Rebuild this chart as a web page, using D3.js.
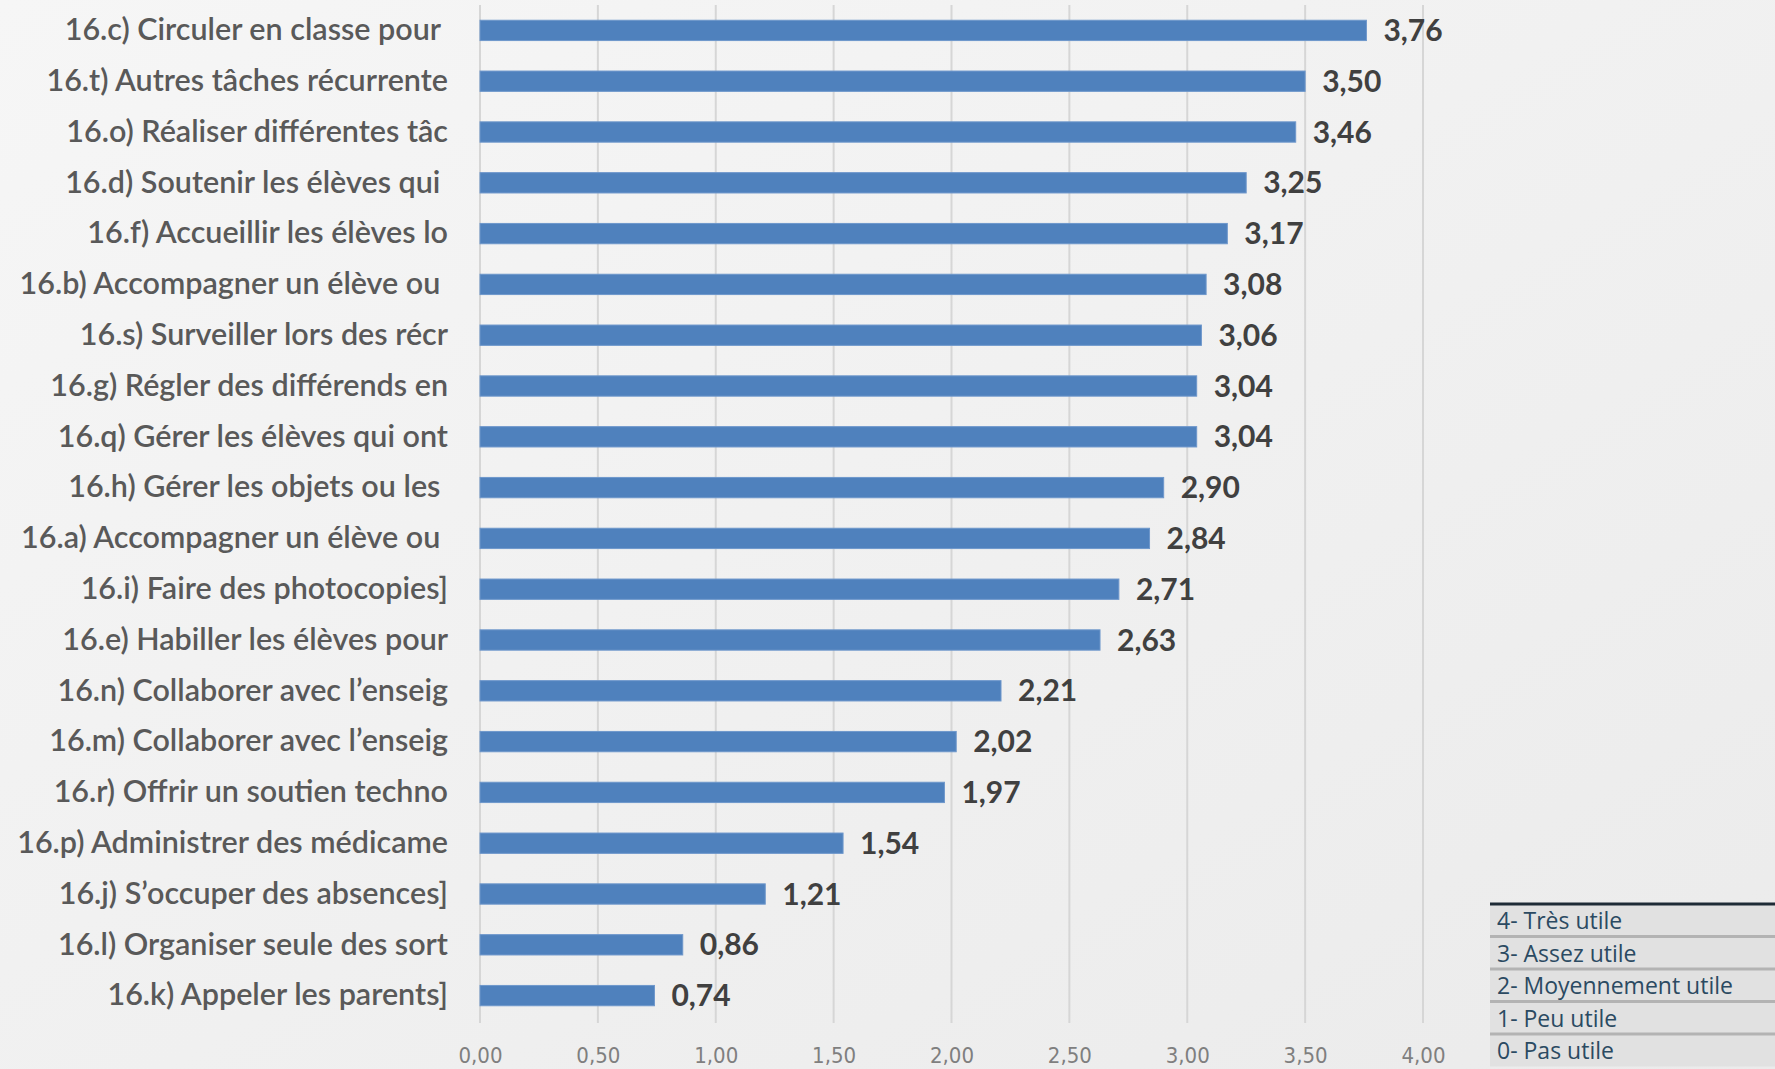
<!DOCTYPE html>
<html><head><meta charset="utf-8">
<script src="https://cdn.jsdelivr.net/npm/d3@7"></script>
<style>
html,body{margin:0;padding:0;}
body{width:1775px;height:1069px;overflow:hidden;background:#eeeeee;}
</style></head>
<body>
<svg id="chart" width="1775" height="1069"></svg>
<script>
const categories = [
  "16.c) Circuler en classe pour ",
  "16.t) Autres tâches récurrente",
  "16.o) Réaliser différentes tâc",
  "16.d) Soutenir les élèves qui ",
  "16.f) Accueillir les élèves lo",
  "16.b) Accompagner un élève ou ",
  "16.s) Surveiller lors des récr",
  "16.g) Régler des différends en",
  "16.q) Gérer les élèves qui ont",
  "16.h) Gérer les objets ou les ",
  "16.a) Accompagner un élève ou ",
  "16.i) Faire des photocopies]",
  "16.e) Habiller les élèves pour",
  "16.n) Collaborer avec l’enseig",
  "16.m) Collaborer avec l’enseig",
  "16.r) Offrir un soutien techno",
  "16.p) Administrer des médicame",
  "16.j) S’occuper des absences]",
  "16.l) Organiser seule des sort",
  "16.k) Appeler les parents]"
];
const values = [3.76,3.50,3.46,3.25,3.17,3.08,3.06,3.04,3.04,2.90,2.84,2.71,2.63,2.21,2.02,1.97,1.54,1.21,0.86,0.74];
const xTicks = [0,0.5,1,1.5,2,2.5,3,3.5,4];
const legendItems = ["4- Très utile","3- Assez utile","2- Moyennement utile","1- Peu utile","0- Pas utile"];

const svg = d3.select("#chart");
const defs = svg.append("defs");
const grad = defs.append("linearGradient").attr("id","bg").attr("x1","0").attr("y1","0").attr("x2","1").attr("y2","1");
grad.append("stop").attr("offset","0%").attr("stop-color","#f6f6f6");
grad.append("stop").attr("offset","100%").attr("stop-color","#ebebeb");
svg.append("rect").attr("width",1775).attr("height",1069).attr("fill","url(#bg)");

const fmt = v => d3.format(".2f")(v).replace(".", ",");
const x = d3.scaleLinear().domain([0,4]).range([480,1423]);
const y = d3.scaleBand().domain(categories).range([5,1021]).paddingInner(0.6).paddingOuter(0.3);

// gridlines
svg.append("g").selectAll("line").data(xTicks).join("line")
  .attr("x1",d=>x(d)).attr("x2",d=>x(d)).attr("y1",5).attr("y2",1023)
  .attr("stroke","#d6d6d6").attr("stroke-width",2);

// x axis labels
const xAxis = d3.axisBottom(x).tickValues(xTicks).tickFormat(fmt).tickSize(0).tickPadding(0);
const gx = svg.append("g").attr("transform","translate(0,1047)").call(xAxis);
gx.select(".domain").remove();
gx.selectAll("text").attr("fill","#7f7f7f").style("font-family","'Liberation Sans Narrow','DejaVu Sans Condensed',sans-serif")
  .style("font-size","22px").style("font-weight","300");

// y axis labels
const yAxis = d3.axisLeft(y).tickSize(0).tickPadding(0);
const gy = svg.append("g").attr("transform","translate(448,0)").call(yAxis);
gy.select(".domain").remove();
gy.selectAll("text").attr("fill","#595959").style("white-space","pre")
  .style("font-family","Lato, 'Open Sans', sans-serif").style("font-size","30.5px").style("font-weight","600");

// bars
svg.append("g").selectAll("rect").data(values).join("rect")
  .attr("x",x(0)).attr("y",(d,i)=>y(categories[i]))
  .attr("width",d=>x(d)-x(0)).attr("height",y.bandwidth())
  .attr("fill","#4f81bd").attr("stroke","#6e97cb").attr("stroke-width",1);

// value labels
svg.append("g").selectAll("text").data(values).join("text")
  .attr("x",d=>x(d)+17).attr("y",(d,i)=>y(categories[i])+y.bandwidth()/2)
  .attr("dy","0.35em").attr("fill","#404040")
  .style("font-family","Lato, 'Open Sans', sans-serif").style("font-size","30px").style("font-weight","700")
  .text(fmt);

// legend table
const lg = svg.append("g");
const rowH = 32.5, lx = 1490, ly = 904;
lg.selectAll("rect.row").data(legendItems).join("rect").attr("class","row")
  .attr("x",lx).attr("y",(d,i)=>ly+i*rowH).attr("width",1775-lx).attr("height",rowH)
  .attr("fill","#e1e1e1");
lg.selectAll("line.sep").data(legendItems.slice(1)).join("line").attr("class","sep")
  .attr("x1",lx).attr("x2",1775).attr("y1",(d,i)=>ly+(i+1)*rowH).attr("y2",(d,i)=>ly+(i+1)*rowH)
  .attr("stroke","#b3b3b3").attr("stroke-width",3);
lg.append("line").attr("x1",lx).attr("x2",1775).attr("y1",ly).attr("y2",ly).attr("stroke","#1e2b36").attr("stroke-width",3);
lg.selectAll("text").data(legendItems).join("text")
  .attr("x",lx+7).attr("y",(d,i)=>ly+i*rowH+rowH/2+1).attr("dy","0.35em")
  .attr("fill","#2b4a62").style("font-family","'Open Sans', sans-serif").style("font-size","23px")
  .text(d=>d);
</script>
</body></html>
